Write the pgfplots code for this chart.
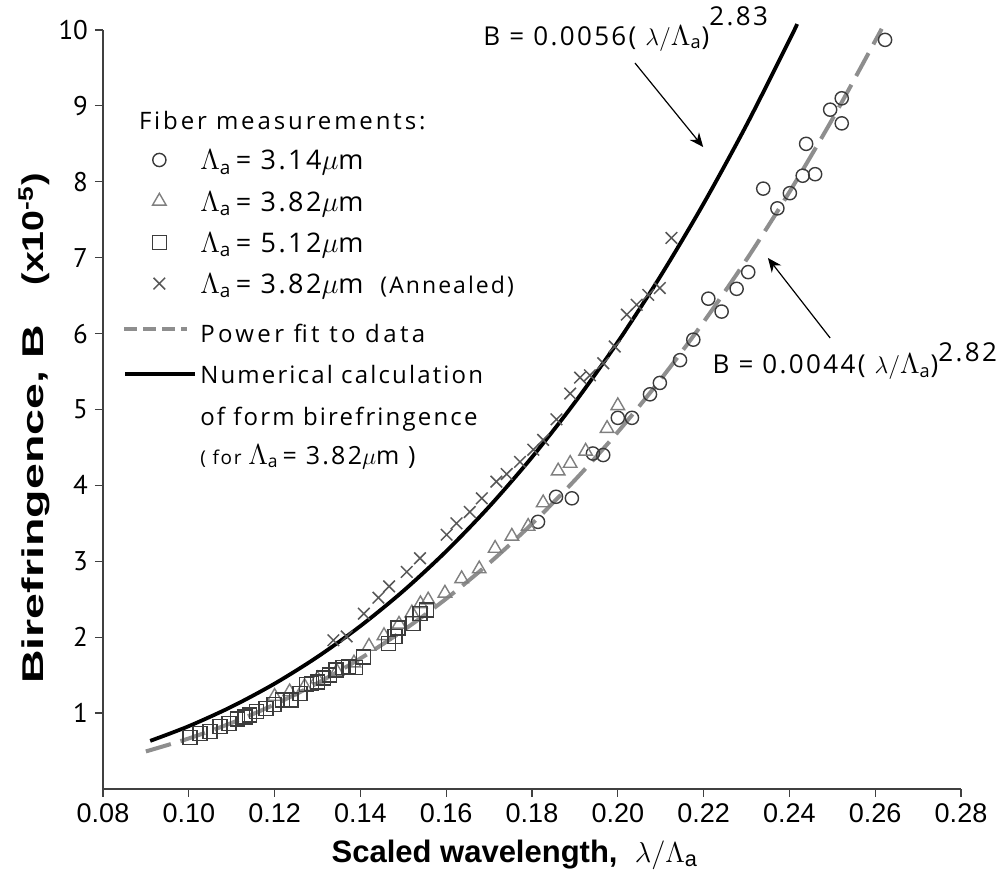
\documentclass[border=0pt]{standalone}
\usepackage{pgfplots}
\pgfplotsset{compat=1.18}
\usepackage{fontspec}
\setmainfont{Liberation Sans}
\newfontfamily\legfont[LetterSpace=14]{Open Sans}
\newfontfamily\legfontt[LetterSpace=12]{Open Sans}
\newfontfamily\legfontb[LetterSpace=9]{Open Sans}
\newfontfamily\legfontm[LetterSpace=9]{Open Sans}
\newfontfamily\annfont[LetterSpace=9]{Open Sans}
\newfontfamily\tickfont{PT Sans}
\usetikzlibrary{arrows.meta}
\definecolor{circc}{HTML}{3A3A3A}
\definecolor{tric}{HTML}{7F7F7F}
\definecolor{sqc}{HTML}{3C3C3C}
\definecolor{xc}{HTML}{575757}
\definecolor{fitc}{HTML}{8E8E8E}
\pgfplotsset{
  dotleg/.style={legend image code/.code={\draw[##1] plot coordinates {(5.5pt,0pt)};}},
  fitleg/.style={legend image code/.code={\draw[##1] (-12pt,0pt) -- (19.5pt,0pt);}},
  numleg/.style={legend image code/.code={\draw[##1] (-11.5pt,0pt) -- (23.5pt,0pt);}},
}
\newcommand{\BL}{{\fontsize{15}{17}\selectfont$\Lambda$}}
\newcommand{\La}{\BL\textsubscript{a}}
\newcommand{\st}{\rule[-3.5pt]{0pt}{15pt}}
\begin{document}
\begin{tikzpicture}
\begin{axis}[name=ax, scale only axis, width=429pt, height=379.5pt,
  xmin=0.08, xmax=0.28, ymin=0, ymax=10, clip=false,
  axis lines*=left,
  axis line style={draw=black!75, line width=0.6pt},
  xtick={0.08,0.10,0.12,0.14,0.16,0.18,0.20,0.22,0.24,0.26,0.28},
  ytick={1,2,3,4,5,6,7,8,9,10},
  tick align=outside, major tick length=4pt,
  tick style={draw=black!75, line width=0.6pt},
  /pgf/number format/assume math mode=true,
  xticklabel style={/pgf/number format/.cd, fixed, fixed zerofill, precision=2, /tikz/.cd, font=\fontsize{13.5}{15}\selectfont},
  yticklabel style={font=\tickfont\fontsize{13.5}{15}\selectfont},
  xlabel={\bfseries Scaled wavelength,\ \ \normalfont$\lambda/\Lambda$\textsubscript{a}},
  xlabel style={font=\fontsize{15.5}{17}\selectfont, at={(axis description cs:0.48,-0.0962)}, anchor=base},
  ylabel={\bfseries\scalebox{1.55}[1]{Birefringence, B}\hspace{1.3em}\scalebox{1.25}[1]{(x10\textsuperscript{-5})}},
  ylabel style={font=\fontsize{15}{17}\selectfont, at={(axis description cs:-0.0804,0.475)}, anchor=center},
  legend cell align=left,
  legend style={draw=none, fill=none, at={(axis description cs:0.0221,0.8464)}, anchor=north west,
    inner sep=0pt, row sep=7.6pt, column sep=1.5pt, nodes={inner sep=0pt},
    font=\legfontb\fontsize{12}{14}\selectfont},
]
% power fit
\addplot[fitc, line width=2pt, dash pattern=on 13pt off 5pt, smooth, forget plot] coordinates {
(0.09,0.495)(0.10,0.666)(0.11,0.871)(0.12,1.114)(0.13,1.396)(0.14,1.720)(0.15,2.090)(0.16,2.507)(0.17,2.974)(0.18,3.494)(0.19,4.070)(0.20,4.703)(0.21,5.397)(0.22,6.153)(0.23,6.975)(0.24,7.865)(0.25,8.824)(0.26,9.856)(0.2615,10.016)};
% numerical
\addplot[black, line width=1.9pt, smooth, forget plot] coordinates {
(0.091,0.634)(0.10,0.828)(0.11,1.085)(0.12,1.388)(0.13,1.741)(0.14,2.147)(0.15,2.609)(0.16,3.132)(0.17,3.719)(0.18,4.372)(0.19,5.094)(0.20,5.890)(0.21,6.762)(0.22,7.713)(0.23,8.748)(0.24,9.867)(0.2418,10.078)};
% circles 3.14
\addplot[only marks, mark=o, mark size=3.3pt, mark options={draw=circc, line width=0.7pt}, forget plot] coordinates {
(0.1814,3.52)(0.1856,3.85)(0.1893,3.83)(0.1942,4.42)(0.1966,4.40)(0.2000,4.89)(0.2033,4.89)(0.2075,5.20)(0.2098,5.35)(0.2145,5.65)(0.2176,5.92)(0.2211,6.46)(0.2242,6.29)(0.2277,6.59)(0.2304,6.81)(0.2339,7.91)(0.2372,7.65)(0.2401,7.85)(0.2431,8.08)(0.2439,8.50)(0.2460,8.10)(0.2495,8.95)(0.2522,9.10)(0.2522,8.77)(0.2623,9.87)};
% triangles 3.82
\addplot[only marks, mark=triangle, mark size=3.9pt, mark options={draw=tric, line width=0.7pt}, forget plot] coordinates {
(0.1200,1.22)(0.1235,1.28)(0.1270,1.35)(0.1300,1.45)(0.1345,1.55)(0.1385,1.66)(0.1420,1.88)(0.1455,2.02)(0.1490,2.17)(0.1520,2.32)(0.1540,2.44)(0.1558,2.49)(0.1597,2.58)(0.1636,2.77)(0.1677,2.90)(0.1714,3.17)(0.1753,3.33)(0.1791,3.46)(0.1826,3.77)(0.1861,4.19)(0.1889,4.29)(0.1925,4.45)(0.1975,4.75)(0.2000,5.05)};
% squares 5.12
\addplot[only marks, mark=square, mark size=3.5pt, mark options={draw=sqc, line width=0.7pt}, forget plot] coordinates {
(0.1003,0.68)(0.1026,0.73)(0.1049,0.755)(0.1073,0.82)(0.1094,0.86)(0.1114,0.92)(0.1131,0.95)(0.1141,0.975)(0.1158,1.02)(0.1180,1.06)(0.1199,1.11)(0.1219,1.17)(0.1238,1.17)(0.1259,1.26)(0.1275,1.38)(0.1286,1.39)(0.1300,1.41)(0.1314,1.46)(0.1328,1.50)(0.1343,1.57)(0.1359,1.60)(0.1372,1.61)(0.1389,1.60)(0.1407,1.74)(0.1465,1.92)(0.1481,2.01)(0.1488,2.12)(0.1523,2.18)(0.1539,2.31)(0.1554,2.36)};
% crosses annealed
\addplot[only marks, mark=x, mark size=4.1pt, mark options={draw=xc, line width=0.75pt}, forget plot] coordinates {
(0.1337,1.96)(0.1368,2.01)(0.1408,2.31)(0.1442,2.52)(0.1467,2.67)(0.1508,2.86)(0.1539,3.04)(0.1601,3.35)(0.1624,3.50)(0.1655,3.65)(0.1683,3.83)(0.1717,4.05)(0.1741,4.15)(0.1772,4.31)(0.1803,4.47)(0.1826,4.60)(0.1857,4.87)(0.1889,5.21)(0.1912,5.42)(0.1935,5.45)(0.1966,5.61)(0.1993,5.83)(0.2021,6.25)(0.2044,6.38)(0.2071,6.51)(0.2098,6.60)(0.2125,7.26)};
% legend
\addlegendimage{only marks, mark=o, mark size=3.3pt, mark options={draw=circc, line width=0.7pt}, dotleg}
\addlegendentry{\st\legfontm\fontsize{13.5}{15}\selectfont\La\,= 3.14$\mu$m}
\addlegendimage{only marks, mark=triangle, mark size=3.9pt, mark options={draw=tric, line width=0.7pt}, dotleg}
\addlegendentry{\st\legfontm\fontsize{13.5}{15}\selectfont\La\,= 3.82$\mu$m}
\addlegendimage{only marks, mark=square, mark size=3.5pt, mark options={draw=sqc, line width=0.7pt}, dotleg}
\addlegendentry{\st\legfontm\fontsize{13.5}{15}\selectfont\La\,= 5.12$\mu$m}
\addlegendimage{only marks, mark=x, mark size=4.1pt, mark options={draw=xc, line width=0.75pt}, dotleg}
\addlegendentry{\st{\legfontm\fontsize{13.5}{15}\selectfont\La\,= 3.82$\mu$m}\ \ {\annfont\fontsize{11.5}{13}\selectfont(Annealed)}}
\addlegendimage{fitc, line width=2pt, dash pattern=on 6.5pt off 3pt, fitleg}
\addlegendentry{\rule[-3.5pt]{0pt}{19pt}{\legfont Power fit to data}}
\addlegendimage{black, line width=1.9pt, numleg}
\addlegendentry{\st Numerical calculation}
\addlegendimage{empty legend}
\addlegendentry{\st of form birefringence}
\addlegendimage{empty legend}
\addlegendentry{\rule[-3.5pt]{0pt}{14pt}{\annfont\fontsize{9.5}{11}\selectfont( for }{\legfontm\fontsize{12.5}{14}\selectfont\La\,= 3.82$\mu$m )}}
% title of legend
\node[anchor=west, font=\legfontt\fontsize{12}{14}\selectfont, inner sep=0pt] at (axis cs:0.0883,8.81) {Fiber measurements:};
% annotations
\node[anchor=base west, inner sep=0pt, font=\annfont\fontsize{13}{15}\selectfont] at (axis cs:0.1686,9.80) {B = 0.0056( $\lambda/$\BL\textsubscript{a})\raisebox{10pt}{2.83}};
\node[anchor=base west, inner sep=0pt, font=\annfont\fontsize{13}{15}\selectfont] at (axis cs:0.2220,5.468) {B = 0.0044( $\lambda/$\BL\textsubscript{a})\raisebox{6pt}{2.82}};
\draw[-{Stealth[length=7pt,width=6pt]}, line width=0.6pt] (axis cs:0.2040,9.565) -- (axis cs:0.2199,8.458);
\draw[-{Stealth[length=7pt,width=6pt]}, line width=0.6pt] (axis cs:0.2495,5.942) -- (axis cs:0.2350,6.996);
\end{axis}
\pgfresetboundingbox
\path ([shift={(-51.5pt,-46pt)}]ax.south west) rectangle ([shift={(451pt,394.5pt)}]ax.south west);
\end{tikzpicture}
\end{document}
